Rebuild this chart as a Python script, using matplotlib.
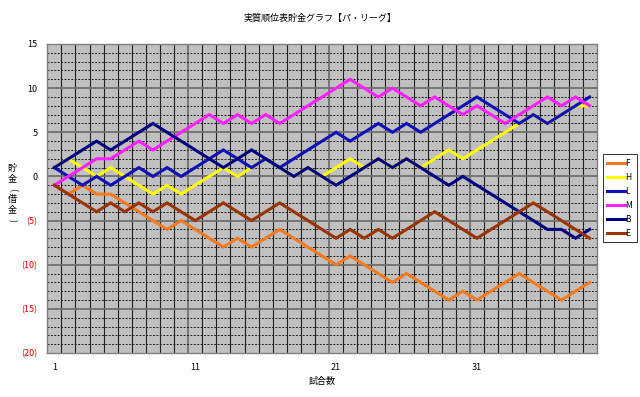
import matplotlib
matplotlib.use("Agg")
import matplotlib.pyplot as plt
import numpy as np

plt.rcParams['font.family'] = ['Noto Sans CJK JP', 'DejaVu Sans']

# games played (x axis categories)
games = list(range(1, 40))

# savings (wins minus losses) after each game
savings_f = [-1, -2, -1, -2, -2, -3, -4, -5, -6, -5, -6, -7, -8, -7, -8, -7, -6, -7, -8, -9,
             -10, -9, -10, -11, -12, -11, -12, -13, -14, -13, -14, -13, -12, -11, -12, -13, -14, -13, -12]
savings_h = [1, 2, 1, 0, 1, 0, -1, -2, -1, -2, -1, 0, 1, 0, 1, 2, 1, 0, 1, 0,
             1, 2, 1, 2, 1, 2, 1, 2, 3, 2, 3, 4, 5, 6, 7, 6, 7, 8, 8]
savings_l = [1, 0, -1, 0, -1, 0, 1, 0, 1, 0, 1, 2, 3, 2, 1, 2, 1, 2, 3, 4,
             5, 4, 5, 6, 5, 6, 5, 6, 7, 8, 9, 8, 7, 6, 7, 6, 7, 8, 9]
savings_m = [-1, 0, 1, 2, 2, 3, 4, 3, 4, 5, 6, 7, 6, 7, 6, 7, 6, 7, 8, 9,
             10, 11, 10, 9, 10, 9, 8, 9, 8, 7, 8, 7, 6, 7, 8, 9, 8, 9, 8]
savings_b = [1, 2, 3, 4, 3, 4, 5, 6, 5, 4, 3, 2, 1, 2, 3, 2, 1, 0, 1, 0,
             -1, 0, 1, 2, 1, 2, 1, 0, -1, 0, -1, -2, -3, -4, -5, -6, -6, -7, -6]
savings_e = [-1, -2, -3, -4, -3, -4, -3, -4, -3, -4, -5, -4, -3, -4, -5, -4, -3, -4, -5, -6,
             -7, -6, -7, -6, -7, -6, -5, -4, -5, -6, -7, -6, -5, -4, -3, -4, -5, -6, -7]

team_names = ["F", "H", "L", "M", "B", "E"]
team_colors = ["#f47a20", "#ffff00", "#1010b8", "#ff20ff", "#000080", "#993300"]
series = [savings_f, savings_h, savings_l, savings_m, savings_b, savings_e]

y_ticks = [15, 10, 5, 0, -5, -10, -15, -20]
x_tick_games = [1, 11, 21, 31]

fig = plt.figure(figsize=(6.4, 3.97), dpi=100)
ax = fig.add_axes([47.3 / 640, 1 - 353 / 397, 549.4 / 640, 309 / 397])
ax.set_facecolor("#c0c0c0")
ax.set_xlim(0.5, len(games) + 0.5)
ax.set_ylim(-20, 15)

# grid: vertical lines between categories, horizontal every 1 (dashed) / every 5 (gray)
for xv in np.arange(1.5, len(games) + 0.5, 1):
    if (xv - 0.5) % 10 == 0:
        ax.axvline(xv, color="#707070", lw=1.3, zorder=1)
    else:
        ax.axvline(xv, color="#202020", lw=0.8, zorder=1)
for yv in range(-19, 15):
    if yv % 5 == 0:
        ax.axhline(yv, color="#707070", lw=1.3, zorder=1)
    else:
        ax.axhline(yv, color="#202020", lw=0.7, ls=(0, (2, 1.5)), zorder=1)

lines = []
for name, color, vals in zip(team_names, team_colors, series):
    ln, = ax.plot(games, vals, color=color, lw=2.2, label=name, zorder=3,
                  solid_joinstyle="miter")
    lines.append(ln)

for sp in ax.spines.values():
    sp.set_color("#808080")
    sp.set_linewidth(1)

ax.set_yticks(y_ticks)
ax.set_yticklabels([str(v) if v >= 0 else "(%d)" % -v for v in y_ticks])
for lbl, v in zip(ax.get_yticklabels(), y_ticks):
    lbl.set_color("black" if v >= 0 else "#e00000")
ax.set_xticks(x_tick_games)
ax.set_xticklabels([str(g) for g in x_tick_games])
ax.tick_params(axis="both", length=0, labelsize=6.5)
ax.tick_params(axis="y", pad=7)
ax.tick_params(axis="x", pad=7)

fig.text(0.5, 1 - 18 / 397, "実質順位表貯金グラフ【パ・リーグ】", ha="center", va="center", fontsize=6.5)
fig.text(322 / 640, 1 - 381 / 397, "試合数", ha="center", va="center", fontsize=6.5)

# stacked vertical axis title, one character per line
ylabel_chars = ["貯", "金", "(", "借", "金", ")"]
for k, ch in enumerate(ylabel_chars):
    rot = -90 if ch in "()" else 0
    fig.text(12 / 640, 1 - (168 + k * 10.5) / 397, ch, ha="center", va="center",
             fontsize=6.5, rotation=rot)

leg = ax.legend(handles=lines, loc="center left", bbox_to_anchor=(603 / 640, 1 - 198 / 397),
                bbox_transform=fig.transFigure, fontsize=6, handlelength=2.1,
                handletextpad=0.1, labelspacing=0.6, borderpad=0.5, frameon=True,
                fancybox=False, edgecolor="black", borderaxespad=0)
leg.get_frame().set_linewidth(0.7)

fig.savefig("out.png", dpi=100)
